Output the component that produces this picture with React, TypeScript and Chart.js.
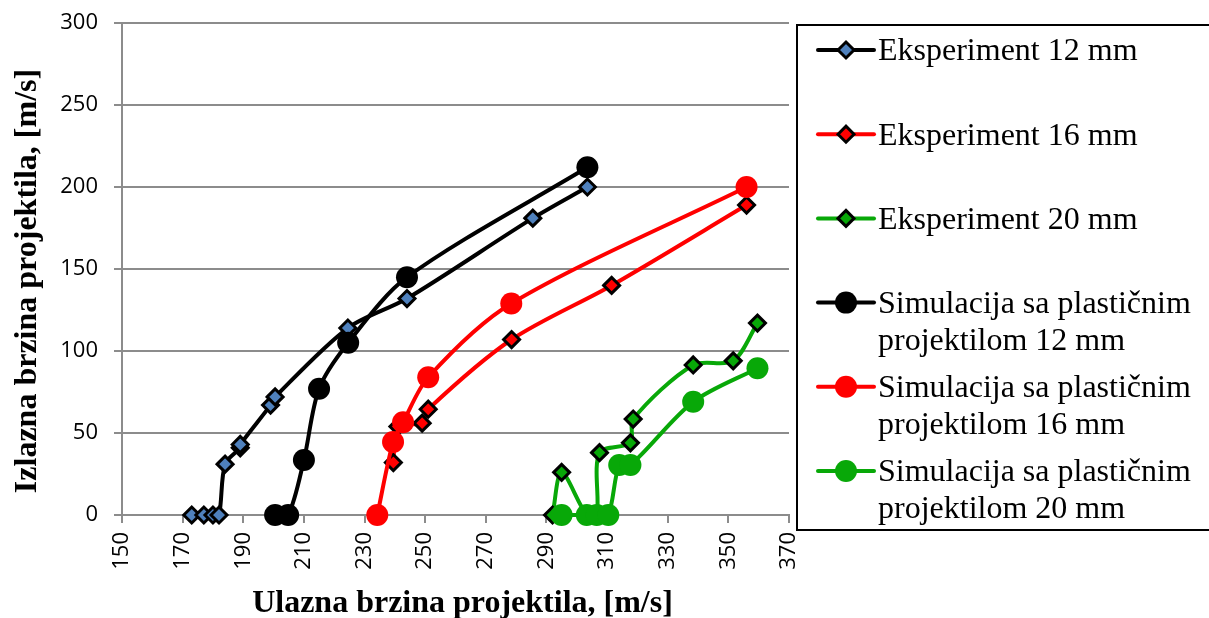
import React, { useEffect, useRef } from 'react';
import { Chart, registerables } from 'chart.js';

Chart.register(...registerables);

// ---- data ----
const exp12X = [173, 177, 180, 182, 184, 189, 189, 199, 200.5, 224.5, 244, 285.5, 303.5];
const exp12Y = [0, 0, 0, 0, 31, 41, 43, 67, 72, 114, 132, 181, 200];

const exp16X = [239.5, 241, 249, 251, 278.5, 311.5, 356];
const exp16Y = [32, 54, 56, 64.5, 107, 140, 189];

const exp20X = [292, 295, 303.3, 306.6, 307.5, 317.7, 318.6, 338.4, 351.6, 359.6];
const exp20Y = [0, 26, 0, 0, 38, 44, 58.5, 91.5, 94, 117];

const sim12X = [200.5, 204.8, 210, 215, 224.6, 244, 303.5];
const sim12Y = [0, 0, 33.5, 77, 105, 145, 212];

const sim16X = [234.2, 239.4, 242.7, 251, 278.4, 356];
const sim16Y = [0, 44.5, 56.5, 84, 129, 200];

const sim20X = [295, 303.3, 306.6, 310.4, 314, 317.7, 338.4, 359.6];
const sim20Y = [0, 0, 0, 0, 30.5, 30.5, 69, 89.5];

const xAxisRange = [150, 370];
const xAxisStep = 20;
const yAxisRange = [0, 300];
const yAxisStep = 50;

const xTitle = 'Ulazna brzina projektila, [m/s]';
const yTitle = 'Izlazna brzina projektila, [m/s]';

const seriesNames = [
  ['Eksperiment 12 mm'],
  ['Eksperiment 16 mm'],
  ['Eksperiment 20 mm'],
  ['Simulacija sa plastičnim', 'projektilom 12 mm'],
  ['Simulacija sa plastičnim', 'projektilom 16 mm'],
  ['Simulacija sa plastičnim', 'projektilom 20 mm'],
];

const BLACK = '#000000';
const RED = '#FF0000';
const GREEN = '#08A808';
const BLUE = '#4F81BD';
const GRID = '#8C8C8C';

const lineColors = [BLACK, RED, GREEN, BLACK, RED, GREEN];
const markerFills = [BLUE, RED, GREEN, BLACK, RED, GREEN];
const markerKinds = ['diamond', 'diamond', 'diamond', 'circle', 'circle', 'circle'];

const zip = (xs: number[], ys: number[]) => xs.map((x, i) => ({ x, y: ys[i] }));

const SERIF = '"Liberation Serif", "Times New Roman", serif';

const decorPlugin = {
  id: 'decor',
  afterDraw(chart: any) {
    const { ctx, chartArea } = chart;
    ctx.save();
    ctx.fillStyle = '#000';
    ctx.textAlign = 'center';
    ctx.textBaseline = 'middle';
    ctx.font = 'bold 32px ' + SERIF;
    const cx = (chartArea.left + chartArea.right) / 2 + 7;
    ctx.fillText(xTitle, cx, chart.height - 14);
    ctx.save();
    ctx.translate(28, (chartArea.top + chartArea.bottom) / 2 + 12);
    ctx.rotate(-Math.PI / 2);
    ctx.fillText(yTitle, 0, 0);
    ctx.restore();

    // legend box
    const boxL = chartArea.right + 8;
    const boxT = chartArea.top + 2;
    ctx.lineWidth = 2;
    ctx.strokeStyle = '#000';
    ctx.strokeRect(boxL, boxT, 460, 505);

    const rowStart = boxT + 25;
    const rowGap = 84.2;
    const lineX0 = boxL + 21;
    const lineX1 = boxL + 77;
    const mx = boxL + 49;
    ctx.font = '32px ' + SERIF;
    ctx.textAlign = 'left';
    seriesNames.forEach((lines, i) => {
      const y = rowStart + i * rowGap;
      ctx.beginPath();
      ctx.strokeStyle = lineColors[i];
      ctx.lineWidth = 4;
      ctx.lineCap = 'round';
      ctx.moveTo(lineX0, y);
      ctx.lineTo(lineX1, y);
      ctx.stroke();
      if (markerKinds[i] === 'diamond') {
        const r = 8;
        ctx.beginPath();
        ctx.moveTo(mx - r, y);
        ctx.lineTo(mx, y - r);
        ctx.lineTo(mx + r, y);
        ctx.lineTo(mx, y + r);
        ctx.closePath();
        ctx.fillStyle = markerFills[i];
        ctx.fill();
        ctx.lineWidth = 3;
        ctx.strokeStyle = '#000';
        ctx.lineJoin = 'miter';
        ctx.stroke();
      } else {
        ctx.beginPath();
        ctx.arc(mx, y, 11, 0, Math.PI * 2);
        ctx.fillStyle = markerFills[i];
        ctx.fill();
      }
      ctx.fillStyle = '#000';
      lines.forEach((t, k) => {
        ctx.fillText(t, lineX1 + 4, y + 2 + k * 37);
      });
    });
    ctx.restore();
  },
};

export default function App() {
  const ref = useRef<HTMLCanvasElement | null>(null);

  useEffect(() => {
    if (!ref.current) return;
    const mk = (i: number, xs: number[], ys: number[], order: number) => {
      const diamond = markerKinds[i] === 'diamond';
      return {
        label: seriesNames[i].join(' '),
        data: zip(xs, ys),
        borderColor: lineColors[i],
        backgroundColor: markerFills[i],
        borderWidth: 4,
        tension: 0.3,
        pointStyle: diamond ? 'rectRot' : 'circle',
        pointRadius: diamond ? 8 : 11,
        pointBorderWidth: diamond ? 3 : 0,
        pointBorderColor: '#000000',
        pointBackgroundColor: markerFills[i],
        pointHoverRadius: diamond ? 8 : 11,
        order,
        clip: 12,
      };
    };
    const chart = new Chart(ref.current, {
      type: 'line',
      data: {
        datasets: [
          mk(3, sim12X, sim12Y, 0),
          mk(4, sim16X, sim16Y, 0),
          mk(5, sim20X, sim20Y, 0),
          mk(0, exp12X, exp12Y, 1),
          mk(1, exp16X, exp16Y, 1),
          mk(2, exp20X, exp20Y, 1),
        ] as any,
      },
      options: {
        responsive: false,
        animation: false,
        events: [],
        layout: { padding: { left: 0, right: 420, top: 23, bottom: 0 } },
        plugins: { legend: { display: false }, tooltip: { enabled: false } },
        scales: {
          x: {
            type: 'linear',
            min: xAxisRange[0],
            max: xAxisRange[1],
            afterFit: (s: any) => {
              s.height = 103;
              s.paddingLeft = 0;
              s.paddingRight = 0;
              s.paddingTop = 0;
              s.paddingBottom = 0;
            },
            ticks: {
              stepSize: xAxisStep,
              autoSkip: false,
              minRotation: 90,
              maxRotation: 90,
              padding: 9,
              color: '#000',
              font: { family: '"Open Sans", sans-serif', size: 22 },
            },
            grid: {
              display: true,
              drawOnChartArea: false,
              drawTicks: true,
              tickLength: 8,
              color: GRID,
              lineWidth: 2,
            },
            border: { color: GRID, width: 2 },
          },
          y: {
            type: 'linear',
            min: yAxisRange[0],
            max: yAxisRange[1],
            afterFit: (s: any) => {
              s.width = 122;
              s.paddingTop = 0;
              s.paddingBottom = 0;
              s.paddingLeft = 0;
              s.paddingRight = 0;
            },
            ticks: {
              stepSize: yAxisStep,
              padding: 16,
              color: '#000',
              font: { family: '"Open Sans", sans-serif', size: 22 },
            },
            grid: {
              color: GRID,
              lineWidth: 2,
              drawTicks: true,
              tickLength: 8,
            },
            border: { color: GRID, width: 2 },
          },
        },
      } as any,
      plugins: [decorPlugin],
    });
    return () => chart.destroy();
  }, []);

  return (
    <div style={{ position: 'absolute', left: 0, top: 0, width: 1209, height: 618, background: '#fff' }}>
      <canvas ref={ref} width={1209} height={618} style={{ display: 'block' }} />
    </div>
  );
}
